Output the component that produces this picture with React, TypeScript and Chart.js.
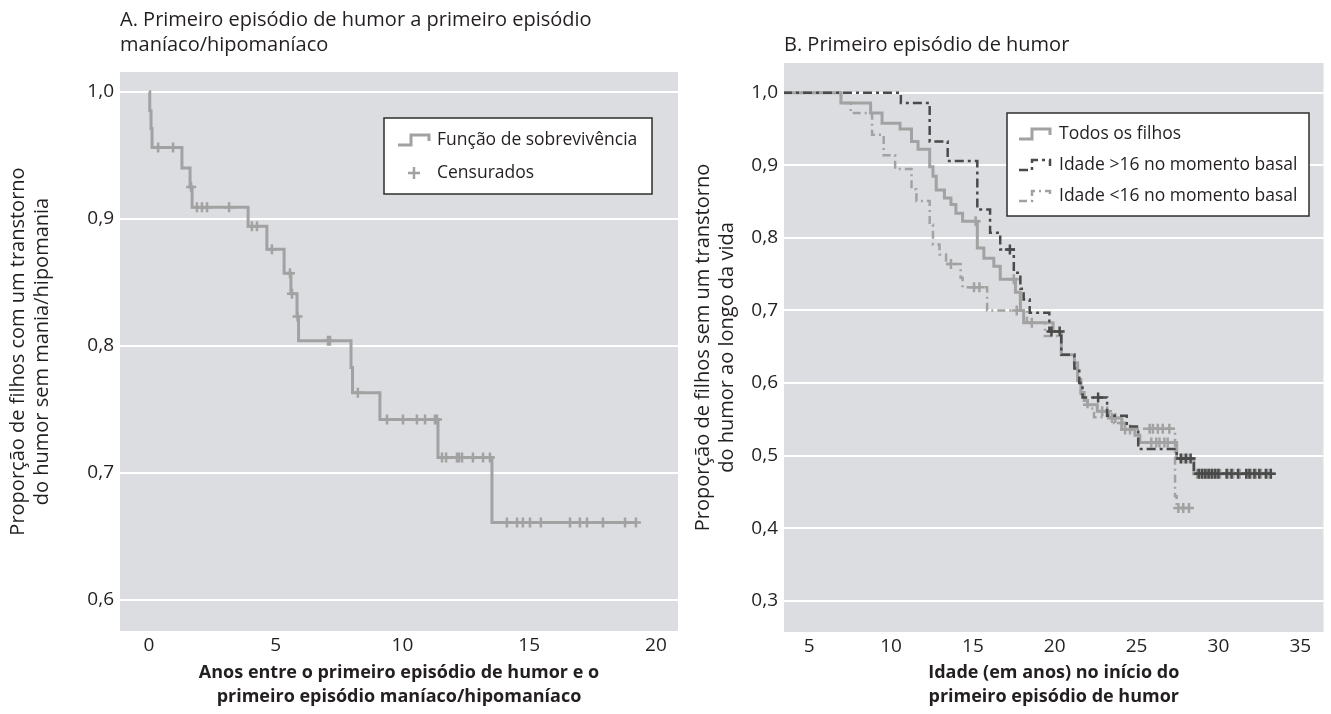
import React, { useEffect, useRef } from "react";
import { Chart, registerables } from "chart.js";

Chart.register(...registerables);

// ---------------- Panel A data ----------------
const aTitle = ["A. Primeiro episódio de humor a primeiro episódio", "maníaco/hipomaníaco"];
const aXTitle = ["Anos entre o primeiro episódio de humor e o", "primeiro episódio maníaco/hipomaníaco"];
const aYTitle = ["Proporção de filhos com um transtorno", "do humor sem mania/hipomania"];
const aXTicks = [0, 5, 10, 15, 20];
const aYTicks = [0.6, 0.7, 0.8, 0.9, 1.0];
const aTimes = [0, 0.03, 0.08, 0.12, 1.3, 1.62, 1.7, 3.91, 4.65, 5.33, 5.6, 5.84, 5.9, 7.97, 8.03, 9.11, 11.4, 13.53, 19.25];
const aSurvival = [1.0, 0.985, 0.971, 0.956, 0.94, 0.925, 0.909, 0.894, 0.876, 0.857, 0.841, 0.823, 0.804, 0.783, 0.763, 0.742, 0.712, 0.661, 0.661];
const aCensored = [0.36, 0.95, 1.66, 1.89, 2.09, 2.29, 3.16, 4.06, 4.26, 4.85, 5.56, 5.64, 5.86, 7.06, 7.14, 8.24, 9.39, 10.02, 10.57, 10.89, 11.28, 11.36, 11.56, 11.72, 12.15, 12.23, 12.35, 12.78, 13.18, 13.45, 14.12, 14.52, 14.75, 15.03, 15.46, 16.61, 17.0, 17.28, 17.91, 18.78, 19.21];
const aLegend = ["Função de sobrevivência", "Censurados"];

// ---------------- Panel B data ----------------
const bTitle = ["B. Primeiro episódio de humor"];
const bXTitle = ["Idade (em anos) no início do", "primeiro episódio de humor"];
const bYTitle = ["Proporção de filhos sem um transtorno", "do humor ao longo da vida"];
const bXTicks = [5, 10, 15, 20, 25, 30, 35];
const bYTicks = [0.3, 0.4, 0.5, 0.6, 0.7, 0.8, 0.9, 1.0];
const bLegend = ["Todos os filhos", "Idade >16 no momento basal", "Idade <16 no momento basal"];

const bAllAges = [3.4, 6.94, 8.75, 9.45, 10.55, 11.25, 11.65, 12.36, 12.56, 12.76, 13.26, 13.66, 13.96, 14.37, 15.27, 15.67, 16.28, 16.67, 17.6, 17.9, 18.1, 19.9, 20.4, 21.2, 21.4, 21.6, 21.8, 22.0, 22.6, 23.3, 24.1, 24.9, 25.2, 27.45, 28.5, 33.2];
const bAllSurvival = [1.0, 0.986, 0.972, 0.958, 0.95, 0.933, 0.922, 0.898, 0.885, 0.866, 0.855, 0.846, 0.834, 0.823, 0.786, 0.772, 0.761, 0.743, 0.725, 0.7, 0.683, 0.671, 0.639, 0.628, 0.605, 0.587, 0.576, 0.57, 0.561, 0.552, 0.536, 0.528, 0.518, 0.496, 0.475, 0.475];
const bAllCensored = [15.17, 17.5, 18.6, 22.9, 23.2, 23.5, 23.7, 24.3, 24.6, 25.9, 26.2, 26.4, 26.7, 26.9, 27.8, 28.1, 28.7, 28.9, 29.1, 29.3, 29.5, 29.7, 29.9, 30.1, 30.6, 30.9, 31.3, 31.8, 32.0, 32.3, 32.6, 33.0, 33.2];

const bOldAges = [3.4, 10.6, 12.36, 13.46, 15.27, 16.05, 16.67, 17.5, 17.9, 18.1, 18.47, 19.67, 20.4, 21.2, 21.5, 21.7, 23.2, 24.4, 25.1, 27.45, 28.5, 33.2];
const bOldSurvival = [1.0, 0.986, 0.933, 0.906, 0.839, 0.807, 0.784, 0.752, 0.73, 0.715, 0.697, 0.671, 0.639, 0.62, 0.6, 0.58, 0.555, 0.54, 0.509, 0.496, 0.475, 0.475];
const bOldCensored = [17.26, 19.8, 20.3, 22.65, 27.7, 28.0, 28.3, 28.8, 29.0, 29.2, 29.4, 29.6, 29.8, 30.0, 30.5, 30.8, 31.2, 31.7, 31.9, 32.2, 32.5, 32.9, 33.2];

const bYoungAges = [3.4, 6.94, 7.54, 8.84, 9.55, 10.25, 11.25, 11.55, 12.36, 12.56, 12.96, 13.36, 14.25, 14.37, 15.87, 18.3, 19.4, 20.4, 21.2, 21.4, 21.6, 21.8, 22.0, 22.4, 23.5, 24.3, 27.35, 27.45, 28.3];
const bYoungSurvival = [1.0, 0.986, 0.972, 0.942, 0.914, 0.895, 0.867, 0.851, 0.818, 0.791, 0.777, 0.764, 0.745, 0.732, 0.7, 0.683, 0.665, 0.639, 0.62, 0.6, 0.585, 0.57, 0.565, 0.553, 0.545, 0.537, 0.444, 0.428, 0.428];
const bYoungCensored = [13.66, 15.07, 15.4, 17.68, 24.1, 25.8, 26.0, 26.3, 26.6, 27.0, 27.55, 27.85, 28.2];

// ---------------- styling ----------------
const FONT = '"Open Sans", "DejaVu Sans", sans-serif';
const TEXT = "#231f20";
const LIGHT = "#a2a2a2";
const DARK = "#4a4a4a";
const PLOT_BG = "#dcdde0";

function survivalAt(times: number[], surv: number[], t: number) {
  let v = surv[0];
  for (let i = 0; i < times.length; i++) if (times[i] <= t) v = surv[i];
  return v;
}
const stepPoints = (times: number[], surv: number[]) => times.map((t, i) => ({ x: t, y: surv[i] }));
const censorPoints = (times: number[], surv: number[], cens: number[]) =>
  cens.map((c) => ({ x: c, y: survivalAt(times, surv, c) }));
const fixedTicks = (vals: number[]) => (scale: any) => {
  scale.ticks = vals.map((v) => ({ value: v }));
};
const comma = (v: any) => Number(v).toFixed(1).replace(".", ",");

const decorPlugin = {
  id: "decor",
  beforeDraw(chart: any) {
    const { ctx, chartArea: ca } = chart;
    ctx.save();
    ctx.fillStyle = PLOT_BG;
    ctx.fillRect(ca.left, ca.top, ca.right - ca.left, ca.bottom - ca.top);
    ctx.restore();
  },
  afterDraw(chart: any, _a: any, opts: any) {
    const { ctx, chartArea: ca } = chart;
    ctx.save();
    ctx.fillStyle = TEXT;
    ctx.textBaseline = "middle";
    ctx.textAlign = "left";
    ctx.font = `${opts.titleSize}px ${FONT}`;
    opts.title.forEach((line: string, i: number) => ctx.fillText(line, ca.left, opts.titleY[i]));
    // legend box
    const b = opts.box;
    const x0 = ca.left + b.x;
    const y0 = b.y;
    ctx.fillStyle = "#ffffff";
    ctx.fillRect(x0, y0, b.w, b.h);
    ctx.strokeStyle = "#2e2e2e";
    ctx.lineWidth = 1.5;
    ctx.strokeRect(x0, y0, b.w, b.h);
    ctx.font = `${opts.legendSize}px ${FONT}`;
    opts.items.forEach((it: any, i: number) => {
      const cy = y0 + b.first + i * b.gap;
      const ix = x0 + b.iconX;
      ctx.strokeStyle = it.color;
      ctx.lineWidth = it.width;
      ctx.setLineDash(it.dash || []);
      ctx.beginPath();
      if (it.kind === "cross") {
        ctx.moveTo(ix + 16, cy - 6);
        ctx.lineTo(ix + 16, cy + 6);
        ctx.moveTo(ix + 10, cy);
        ctx.lineTo(ix + 22, cy);
      } else {
        ctx.moveTo(ix, cy + 5);
        ctx.lineTo(ix + 13, cy + 5);
        ctx.lineTo(ix + 13, cy - 5);
        ctx.lineTo(ix + 31, cy - 5);
        ctx.lineTo(ix + 31, cy + 1);
      }
      ctx.stroke();
      ctx.setLineDash([]);
      ctx.fillStyle = TEXT;
      ctx.fillText(it.label, x0 + b.textX, cy);
    });
    ctx.restore();
  },
};

function makeScales(o: any) {
  return {
    x: {
      type: "linear",
      min: o.xMin,
      max: o.xMax,
      afterBuildTicks: fixedTicks(o.xTicks),
      afterFit: (s: any) => {
        s.height = o.xHeight;
      },
      grid: { display: false, drawTicks: false },
      border: { display: false },
      ticks: { color: TEXT, font: { family: FONT, size: 19 }, padding: 3, maxRotation: 0, autoSkip: false, callback: (v: any) => String(v) },
      title: {
        display: true,
        text: o.xTitle,
        color: TEXT,
        font: { family: FONT, size: 18, weight: "bold", lineHeight: 1.33 },
        padding: { top: 0, bottom: 5 },
      },
    },
    y: {
      type: "linear",
      min: o.yMin,
      max: o.yMax,
      afterBuildTicks: fixedTicks(o.yTicks),
      afterFit: (s: any) => {
        s.width = o.yWidth;
      },
      grid: { color: "#ffffff", lineWidth: 2, drawTicks: false },
      border: { display: false },
      ticks: { color: TEXT, font: { family: FONT, size: 19 }, padding: 6, callback: comma },
      title: {
        display: true,
        text: o.yTitle,
        color: TEXT,
        font: { family: FONT, size: 20, lineHeight: 1.2 },
        padding: { top: o.yTitlePad, bottom: 0 },
      },
    },
  };
}

export default function App() {
  const refA = useRef<HTMLCanvasElement>(null);
  const refB = useRef<HTMLCanvasElement>(null);

  useEffect(() => {
    const censorStyle = (color: string) => ({
      showLine: false,
      pointStyle: "cross",
      pointRadius: 5,
      pointBorderWidth: 2.5,
      pointBorderColor: color,
      pointBackgroundColor: color,
      borderColor: color,
    });

    const chartA = new Chart(refA.current as HTMLCanvasElement, {
      type: "line",
      data: {
        datasets: [
          {
            label: aLegend[1],
            data: censorPoints(aTimes, aSurvival, aCensored),
            ...censorStyle(LIGHT),
          } as any,
          {
            label: aLegend[0],
            data: stepPoints(aTimes, aSurvival),
            stepped: "before",
            borderColor: LIGHT,
            borderWidth: 3,
            pointRadius: 0,
            fill: false,
          },
        ],
      },
      options: {
        responsive: false,
        animation: false,
        layout: { padding: { left: 0, right: 22, top: 72, bottom: 0 } },
        scales: makeScales({
          xMin: -1.144, xMax: 20.87, xTicks: aXTicks, xHeight: 83, xTitle: aXTitle,
          yMin: 0.5755, yMax: 1.0155, yTicks: aYTicks, yWidth: 120, yTitle: aYTitle, yTitlePad: 6,
        }) as any,
        plugins: {
          legend: { display: false },
          tooltip: { enabled: false },
          decor: {
            title: aTitle,
            titleY: [20, 45],
            titleSize: 20,
            legendSize: 17.5,
            box: { x: 264, y: 118, w: 268, h: 76, first: 22, gap: 33, iconX: 14, textX: 53 },
            items: [
              { label: aLegend[0], kind: "step", color: LIGHT, width: 3 },
              { label: aLegend[1], kind: "cross", color: LIGHT, width: 2.5 },
            ],
          },
        } as any,
      },
      plugins: [decorPlugin],
    });

    const chartB = new Chart(refB.current as HTMLCanvasElement, {
      type: "line",
      data: {
        datasets: [
          { label: "c1", data: censorPoints(bOldAges, bOldSurvival, bOldCensored), ...censorStyle(DARK) } as any,
          {
            label: bLegend[1],
            data: stepPoints(bOldAges, bOldSurvival),
            stepped: "before",
            borderColor: DARK,
            borderWidth: 2.5,
            borderDash: [9, 4, 3, 4],
            pointRadius: 0,
          },
          { label: "c2", data: censorPoints(bAllAges, bAllSurvival, bAllCensored), ...censorStyle(LIGHT) } as any,
          { label: "c3", data: censorPoints(bYoungAges, bYoungSurvival, bYoungCensored), ...censorStyle(LIGHT) } as any,
          {
            label: bLegend[0],
            data: stepPoints(bAllAges, bAllSurvival),
            stepped: "before",
            borderColor: LIGHT,
            borderWidth: 3,
            pointRadius: 0,
          },
          {
            label: bLegend[2],
            data: stepPoints(bYoungAges, bYoungSurvival),
            stepped: "before",
            borderColor: LIGHT,
            borderWidth: 2.5,
            borderDash: [8, 4, 2, 4],
            pointRadius: 0,
          },
        ],
      },
      options: {
        responsive: false,
        animation: false,
        layout: { padding: { left: 0, right: 0, top: 63, bottom: 0 } },
        scales: makeScales({
          xMin: 3.46, xMax: 36.42, xTicks: bXTicks, xHeight: 82, xTitle: bXTitle,
          yMin: 0.257, yMax: 1.041, yTicks: bYTicks, yWidth: 124, yTitle: bYTitle, yTitlePad: 31,
        }) as any,
        plugins: {
          legend: { display: false },
          tooltip: { enabled: false },
          decor: {
            title: bTitle,
            titleY: [45],
            titleSize: 20,
            legendSize: 17.5,
            box: { x: 223, y: 113, w: 302, h: 103, first: 21, gap: 31, iconX: 12, textX: 52 },
            items: [
              { label: bLegend[0], kind: "step", color: LIGHT, width: 3 },
              { label: bLegend[1], kind: "step", color: DARK, width: 2.5, dash: [9, 4, 3, 4] },
              { label: bLegend[2], kind: "step", color: LIGHT, width: 2.5, dash: [8, 4, 2, 4] },
            ],
          },
        } as any,
      },
      plugins: [decorPlugin],
    });

    return () => {
      chartA.destroy();
      chartB.destroy();
    };
  }, []);

  return (
    <div style={{ position: "absolute", left: 0, top: 0, width: 1331, height: 714, background: "#ffffff" }}>
      <canvas ref={refA} width={700} height={714} style={{ position: "absolute", left: 0, top: 0, width: 700, height: 714 }} />
      <canvas ref={refB} width={671} height={714} style={{ position: "absolute", left: 660, top: 0, width: 671, height: 714 }} />
    </div>
  );
}
